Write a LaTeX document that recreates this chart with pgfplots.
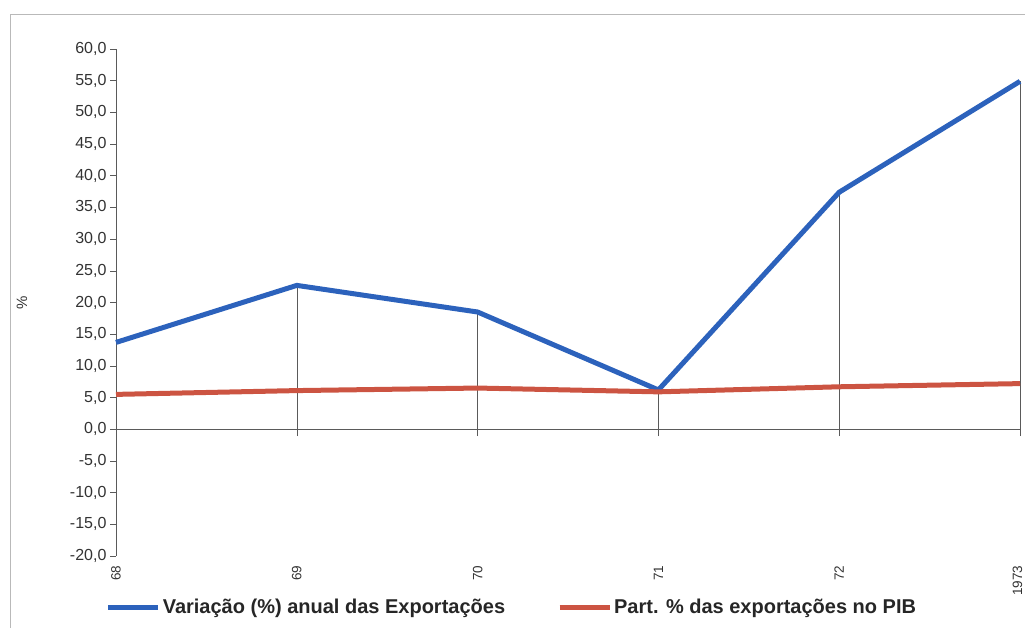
\documentclass[border=0pt]{standalone}
\usepackage{fontspec}
\setmainfont{Liberation Sans}
\usepackage{pgfplots}
\pgfplotsset{compat=1.18}

\definecolor{serieA}{RGB}{44,98,188}
\definecolor{serieB}{RGB}{204,84,66}
\definecolor{eixo}{RGB}{90,90,90}

\begin{document}
\begin{tikzpicture}
\useasboundingbox (0,0) rectangle (1025pt,628pt);
% moldura do gráfico
\draw[gray!55, line width=0.8pt] (10pt,-10pt) -- (10pt,614pt) -- (1040pt,614pt);
\begin{axis}[
  at={(116pt,72pt)}, anchor=south west,
  scale only axis, width=904pt, height=507pt,
  clip=false,
  xmin=0, xmax=5, ymin=-20, ymax=60,
  axis x line*=bottom, axis y line*=left,
  x axis line style={draw=none},
  y axis line style={draw=eixo, line width=0.6pt, -},
  xtick={0,...,5},
  xticklabels={68,69,70,71,72,{\rule[-5pt]{0pt}{0pt}1973}},
  xtick style={draw=none},
  xticklabel style={rotate=90, anchor=east,
    font=\fontsize{13.5}{15}\selectfont, text=black!80},
  ytick={-20,-15,...,60},
  ytick style={draw=eixo, line width=0.6pt},
  tick align=outside, major tick length=6pt,
  /pgf/number format/assume math mode=true,
  yticklabel style={/pgf/number format/.cd, fixed, fixed zerofill, precision=1, use comma,
    /tikz/.cd, font=\fontsize{16}{18}\selectfont, text=black!80},
  ylabel={\%},
  every axis y label/.style={at={(axis description cs:0,0.5)}, xshift=-94pt,
    rotate=90, anchor=center, font=\fontsize{15}{17}\selectfont, text=black!80},
  legend columns=2,
  legend style={at={(axis description cs:0.438,-0.1006)}, anchor=center, draw=none,
    fill=none, font=\bfseries\fontsize{20}{23}\selectfont, text=black!85,
    nodes={inner sep=2pt},
    /tikz/every even column/.append style={column sep=50pt}},
]
% linha do zero
\addplot[eixo, line width=0.6pt, forget plot] coordinates {(0,0) (5,0)};
% linhas de queda de cada ano
\addplot[eixo, line width=0.6pt, unbounded coords=jump, forget plot] coordinates {
  (1,-1.1) (1,22.7) (1,nan)
  (2,-1.1) (2,18.5) (2,nan)
  (3,-1.1) (3,6.2)  (3,nan)
  (4,-1.1) (4,37.4) (4,nan)
  (5,-1.1) (5,54.9)
};
\addplot[serieA, line width=5pt, line join=round,
  legend image code/.code={\draw[serieA, line width=5pt] (0pt,0pt) -- (50pt,0pt);}]
  coordinates {(0,13.7) (1,22.7) (2,18.5) (3,6.2) (4,37.4) (5,54.9)};
\addlegendentry{Variação (\%) anual das Exportações}
\addplot[serieB, line width=5pt, line join=round,
  legend image code/.code={\draw[serieB, line width=5pt] (0pt,0pt) -- (50pt,0pt);}]
  coordinates {(0,5.5) (1,6.1) (2,6.5) (3,5.9) (4,6.7) (5,7.2)};
\addlegendentry{Part. \% das exportações no PIB}
\end{axis}
\end{tikzpicture}
\end{document}
